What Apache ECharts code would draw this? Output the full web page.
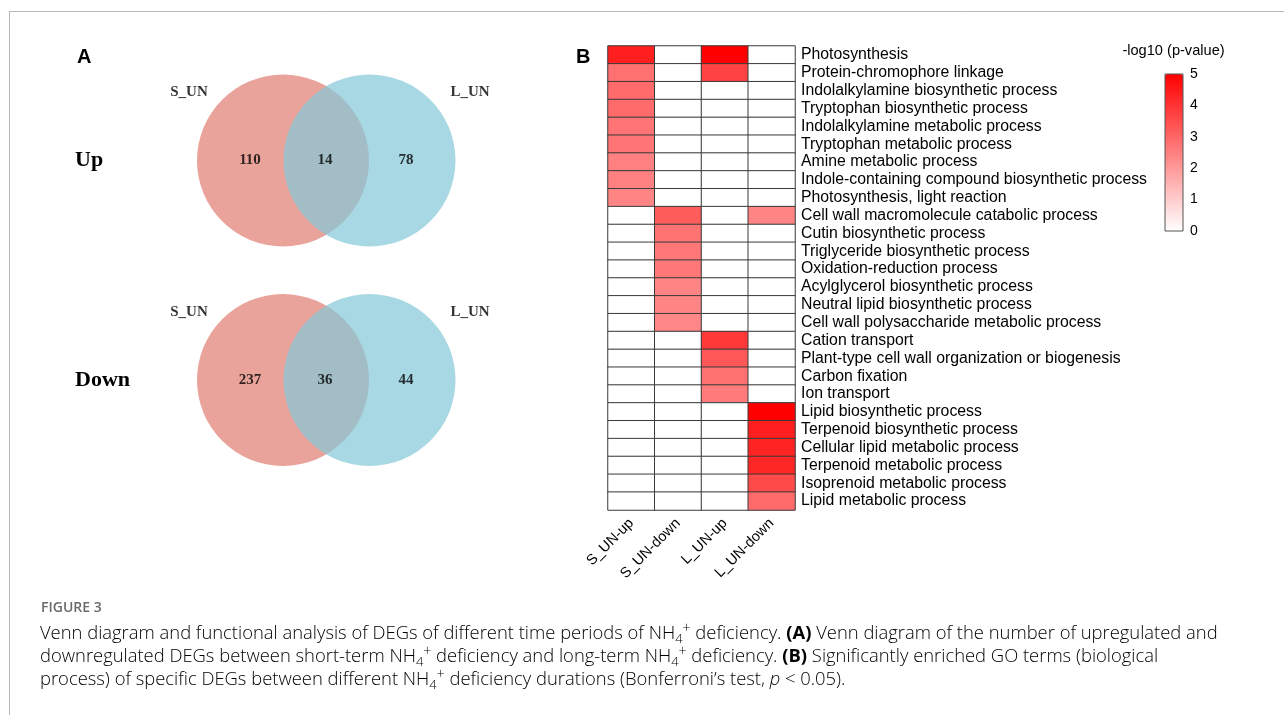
<!DOCTYPE html>
<html><head><meta charset="utf-8">
<script src="https://cdn.jsdelivr.net/npm/echarts@6/dist/echarts.min.js"></script>
<style>html,body{margin:0;padding:0;background:#fff}#c{width:1284px;height:715px}</style>
</head><body><div id="c"></div>
<script>
// ---------- DATA ----------
const vennRows = ['Up', 'Down'];
const vennSets = ['S_UN', 'L_UN'];
const upCounts = [110, 14, 78];      // S_UN only, shared, L_UN only
const downCounts = [237, 36, 44];

const goTerms = [
  'Photosynthesis', 'Protein-chromophore linkage', 'Indolalkylamine biosynthetic process',
  'Tryptophan biosynthetic process', 'Indolalkylamine metabolic process', 'Tryptophan metabolic process',
  'Amine metabolic process', 'Indole-containing compound biosynthetic process', 'Photosynthesis, light reaction',
  'Cell wall macromolecule catabolic process', 'Cutin biosynthetic process', 'Triglyceride biosynthetic process',
  'Oxidation-reduction process', 'Acylglycerol biosynthetic process', 'Neutral lipid biosynthetic process',
  'Cell wall polysaccharide metabolic process', 'Cation transport', 'Plant-type cell wall organization or biogenesis',
  'Carbon fixation', 'Ion transport', 'Lipid biosynthetic process', 'Terpenoid biosynthetic process',
  'Cellular lipid metabolic process', 'Terpenoid metabolic process', 'Isoprenoid metabolic process',
  'Lipid metabolic process'
];
const groups = ['S_UN-up', 'S_UN-down', 'L_UN-up', 'L_UN-down'];
// -log10(p-value) per GO term (0 = not enriched)
const sUnUp   = [4.4, 2.8, 2.9, 2.9, 2.7, 2.7, 2.5, 2.5, 2.4, 0, 0, 0, 0, 0, 0, 0, 0, 0, 0, 0, 0, 0, 0, 0, 0, 0];
const sUnDown = [0, 0, 0, 0, 0, 0, 0, 0, 0, 3.2, 2.75, 2.65, 2.65, 2.4, 2.4, 2.35, 0, 0, 0, 0, 0, 0, 0, 0, 0, 0];
const lUnUp   = [5.0, 3.7, 0, 0, 0, 0, 0, 0, 0, 0, 0, 0, 0, 0, 0, 0, 3.9, 3.3, 2.8, 2.6, 0, 0, 0, 0, 0, 0];
const lUnDown = [0, 0, 0, 0, 0, 0, 0, 0, 0, 2.4, 0, 0, 0, 0, 0, 0, 0, 0, 0, 0, 5.0, 4.4, 4.3, 4.25, 3.55, 2.9];
const scaleTicks = [0, 1, 2, 3, 4, 5];

// ---------- BUILD ----------
const cols = [sUnUp, sUnDown, lUnUp, lUnDown];
const heatData = [];
cols.forEach((arr, ci) => arr.forEach((v, ri) => heatData.push([ci, ri, v])));

const VX = { sLeft: 183, lRight: 269.5, regions: [150, 225, 306], sLabel: 89, lLabel: 370 };
const countsByRow = [upCounts, downCounts];
const countData = [];
vennRows.forEach((r, ri) => countsByRow[ri].forEach((c, k) => countData.push([VX.regions[k], r, c])));
const setLabelData = [];
vennRows.forEach(r => { setLabelData.push([VX.sLabel, r, vennSets[0]]); setLabelData.push([VX.lLabel, r, vennSets[1]]); });

const serif = "'Liberation Serif','Times New Roman',serif";
const sans = "'Liberation Sans',Arial,sans-serif";
const capFont = "'Open Sans','Lato',sans-serif";
const capColor = '#6b6b6b';
const CS = 18.4;
const capRich = {
  sub: { fontSize: 13, fontWeight: 300, verticalAlign: 'bottom', lineHeight: 13, fontFamily: capFont, color: capColor },
  sup: { fontSize: 14, fontWeight: 300, verticalAlign: 'top', lineHeight: 14, fontFamily: capFont, color: capColor },
  b: { fontWeight: 'bold', fontSize: CS, fontFamily: capFont, color: '#555', lineHeight: 24 },
  i: { fontStyle: 'italic', fontWeight: 300, fontSize: CS, fontFamily: capFont, color: capColor, lineHeight: 24 },
  n: { fontSize: CS, fontWeight: 300, fontFamily: capFont, color: capColor, lineHeight: 24 }
};
const NH = '{n|NH}{sub|4}{sup|+}';
const capLines = [
  '{n|Venn diagram and functional analysis of DEGs of different time periods of }' + NH + '{n| deficiency. }{b|(A)}{n| Venn diagram of the number of upregulated and}',
  '{n|downregulated DEGs between short-term }' + NH + '{n| deficiency and long-term }' + NH + '{n| deficiency. }{b|(B)}{n| Significantly enriched GO terms (biological}',
  '{n|process) of specific DEGs between different }' + NH + '{n| deficiency durations (Bonferroni\u2019s test, }{i|p}{n| < 0.05).}'
];

const chart = echarts.init(document.getElementById('c'), null, { renderer: 'canvas' });
chart.setOption({
  backgroundColor: '#fff',
  animation: false,
  grid: [
    { left: 608, top: 46, width: 187, height: 464 },
    { left: 100, top: 50.75, width: 400, height: 439 },
    { left: 1165, top: 74, width: 18, height: 157, show: true, borderColor: '#555', borderWidth: 1, backgroundColor: 'transparent', z: 5 }
  ],
  xAxis: [
    { type: 'category', gridIndex: 0, data: groups, axisLine: { show: false }, axisTick: { show: false },
      axisLabel: { rotate: 45, interval: 0, margin: 11, fontFamily: sans, fontSize: 14.5, color: '#000' } },
    { type: 'value', gridIndex: 1, min: 0, max: 400, show: false },
    { type: 'value', gridIndex: 2, min: 0, max: 1, show: false }
  ],
  yAxis: [
    { type: 'category', gridIndex: 0, data: goTerms, inverse: true, position: 'right', axisLine: { show: false },
      axisTick: { show: false }, axisLabel: { margin: 6, interval: 0, fontFamily: sans, fontSize: 15.8, color: '#000' } },
    { type: 'category', gridIndex: 1, data: vennRows, inverse: true, axisLine: { show: false }, axisTick: { show: false },
      axisLabel: { align: 'left', margin: 25, fontFamily: serif, fontWeight: 'bold', fontSize: 22, color: '#000' } },
    { type: 'value', gridIndex: 2, min: 0, max: 5, interval: 1, position: 'right', axisLine: { show: false },
      axisTick: { show: false }, splitLine: { show: false },
      axisLabel: { margin: 7, fontFamily: sans, fontSize: 14, color: '#000',
        formatter: v => scaleTicks.includes(v) ? String(v) : '' } }
  ],
  visualMap: {
    type: 'continuous', min: 0, max: 5, seriesIndex: 0, orient: 'vertical',
    left: 1165, top: 74, itemWidth: 18, itemHeight: 157, padding: 0, calculable: false,
    showLabel: false, text: null, inRange: { color: ['#ffffff', '#ff0000'] }, hoverLink: false
  },
  series: [
    { type: 'heatmap', xAxisIndex: 0, yAxisIndex: 0, data: heatData, silent: true,
      itemStyle: { borderColor: '#3a3a3a', borderWidth: 1 } },
    { type: 'scatter', xAxisIndex: 1, yAxisIndex: 1, silent: true, symbol: 'circle', symbolSize: 172,
      data: vennRows.map(r => [VX.sLeft, r]), itemStyle: { color: '#e9a39b', opacity: 1 }, z: 1 },
    { type: 'scatter', xAxisIndex: 1, yAxisIndex: 1, silent: true, symbol: 'circle', symbolSize: 172,
      data: vennRows.map(r => [VX.lRight, r]), itemStyle: { color: 'rgba(131,200,215,0.7)', opacity: 1 }, z: 2 },
    { type: 'scatter', xAxisIndex: 1, yAxisIndex: 1, silent: true, symbolSize: 0, data: countData, z: 3,
      label: { show: true, position: 'inside', formatter: p => String(p.value[2]), fontFamily: serif,
        fontWeight: 'bold', fontSize: 15, color: '#000' } },
    { type: 'scatter', xAxisIndex: 1, yAxisIndex: 1, silent: true, symbolSize: 0, data: setLabelData, z: 3,
      label: { show: true, position: 'inside', offset: [0, -68], formatter: p => p.value[2], fontFamily: serif,
        fontWeight: 'bold', fontSize: 15, color: '#000' } }
  ],
  graphic: [
    { type: 'line', shape: { x1: 9, y1: 11.5, x2: 1284, y2: 11.5 }, style: { stroke: '#b8b8b8', lineWidth: 1 } },
    { type: 'line', shape: { x1: 9.5, y1: 11, x2: 9.5, y2: 715 }, style: { stroke: '#b8b8b8', lineWidth: 1 } },
    { type: 'text', left: 77, top: 47, style: { text: 'A', font: "bold 20px 'Liberation Sans', Arial, sans-serif", fill: '#000' } },
    { type: 'text', left: 576, top: 47, style: { text: 'B', font: "bold 20px 'Liberation Sans', Arial, sans-serif", fill: '#000' } },
    { type: 'text', x: 1173.5, y: 51, style: { text: '-log10 (p-value)', font: "14.6px 'Liberation Sans', Arial, sans-serif",
      fill: '#000', align: 'center', verticalAlign: 'middle' } },
    { type: 'text', x: 41, y: 608, style: { text: 'FIGURE 3', font: "600 14px 'Open Sans', sans-serif", fill: '#6b6b6b',
      verticalAlign: 'middle' } },
    { type: 'text', x: 40, y: 622, style: { text: capLines[0], rich: capRich } },
    { type: 'text', x: 40, y: 645, style: { text: capLines[1], rich: capRich } },
    { type: 'text', x: 40, y: 668, style: { text: capLines[2], rich: capRich } }
  ]
});
</script></body></html>
